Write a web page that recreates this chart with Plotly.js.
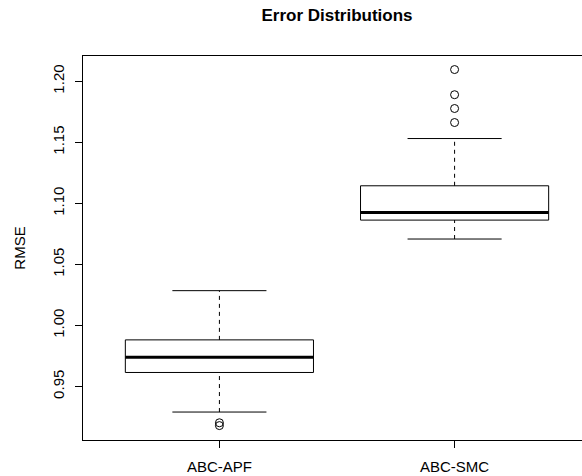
<!DOCTYPE html>
<html>
<head>
<meta charset="utf-8">
<script src="https://cdn.plot.ly/plotly-3.0.1.min.js"></script>
<style>
html, body { margin:0; padding:0; overflow:hidden; background:#fff; }
#chart { width:600px; height:476px; }
</style>
</head>
<body>
<div id="chart"></div>
<script>
// ---- data ----
var categories   = ["ABC-APF", "ABC-SMC"];
var whiskerLow   = [0.9291, 1.0708];
var q1           = [0.9615, 1.0863];
var median       = [0.9740, 1.0926];
var q3           = [0.9882, 1.1144];
var whiskerHigh  = [1.0285, 1.1531];
var outliersAPF  = [0.9203, 0.9180];
var outliersSMC  = [1.1662, 1.1777, 1.1890, 1.2096];
var yTicks       = [0.95, 1.00, 1.05, 1.10, 1.15, 1.20];

// ---- build traces ----
var boxHalf = 0.4, capHalf = 0.2;
var boxX = [], boxY = [], medX = [], medY = [], capX = [], capY = [], whX = [], whY = [];
categories.forEach(function (c, i) {
  var p = i + 1;
  boxX.push(p - boxHalf, p + boxHalf, p + boxHalf, p - boxHalf, p - boxHalf, null);
  boxY.push(q1[i], q1[i], q3[i], q3[i], q1[i], null);
  medX.push(p - boxHalf, p + boxHalf, null);
  medY.push(median[i], median[i], null);
  capX.push(p - capHalf, p + capHalf, null, p - capHalf, p + capHalf, null);
  capY.push(whiskerLow[i], whiskerLow[i], null, whiskerHigh[i], whiskerHigh[i], null);
  whX.push(p, p, null, p, p, null);
  whY.push(whiskerLow[i], q1[i], null, q3[i], whiskerHigh[i], null);
});
var outX = [], outY = [];
outliersAPF.forEach(function (v) { outX.push(1); outY.push(v); });
outliersSMC.forEach(function (v) { outX.push(2); outY.push(v); });

var lineCol = "#000";
var traces = [
  { x: whX, y: whY, mode: "lines", line: { color: lineCol, width: 1, dash: "4px,4px" }, hoverinfo: "skip" },
  { x: capX, y: capY, mode: "lines", line: { color: lineCol, width: 1 }, hoverinfo: "skip" },
  { x: boxX, y: boxY, mode: "lines", line: { color: lineCol, width: 1 }, hoverinfo: "skip" },
  { x: medX, y: medY, mode: "lines", line: { color: lineCol, width: 3 }, hoverinfo: "skip" },
  { x: outX, y: outY, mode: "markers", marker: { symbol: "circle-open", size: 8, color: lineCol, line: { width: 1 } }, hoverinfo: "skip" }
];

var fontFam = "Liberation Sans, Arial, Helvetica, sans-serif";
var layout = {
  width: 600, height: 476,
  margin: { l: 83.3, r: 8.7, t: 55.7, b: 35.7 },
  paper_bgcolor: "#fff", plot_bgcolor: "#fff",
  showlegend: false,
  font: { family: fontFam, size: 15, color: "#000" },
  title: {
    text: "<b>Error Distributions</b>",
    font: { family: fontFam, size: 17, color: "#000" },
    x: 0.5, xref: "paper", xanchor: "center",
    y: 1 - 15 / 476, yref: "container", yanchor: "middle"
  },
  xaxis: {
    range: [0.42, 2.58],
    tickmode: "array", tickvals: [1, 2], ticktext: categories,
    ticks: "outside", ticklen: 7, tickwidth: 1, tickcolor: "#000",
    ticklabelstandoff: 6,
    showline: true, linecolor: "#000", linewidth: 1, mirror: true,
    showgrid: false, zeroline: false,
    tickfont: { family: fontFam, size: 15, color: "#000" }
  },
  yaxis: {
    range: [0.9062, 1.2207],
    tickmode: "array", tickvals: yTicks,
    ticktext: yTicks.map(function (v) { return v.toFixed(2); }),
    tickangle: -90,
    ticks: "outside", ticklen: 7, tickwidth: 1, tickcolor: "#000",
    ticklabelstandoff: 5,
    showline: true, linecolor: "#000", linewidth: 1, mirror: true,
    showgrid: false, zeroline: false,
    tickfont: { family: fontFam, size: 15, color: "#000" },
    title: { text: "RMSE", font: { family: fontFam, size: 15, color: "#000" }, standoff: 20 }
  }
};

Plotly.newPlot("chart", traces, layout, { displayModeBar: false, staticPlot: true });
</script>
</body>
</html>
